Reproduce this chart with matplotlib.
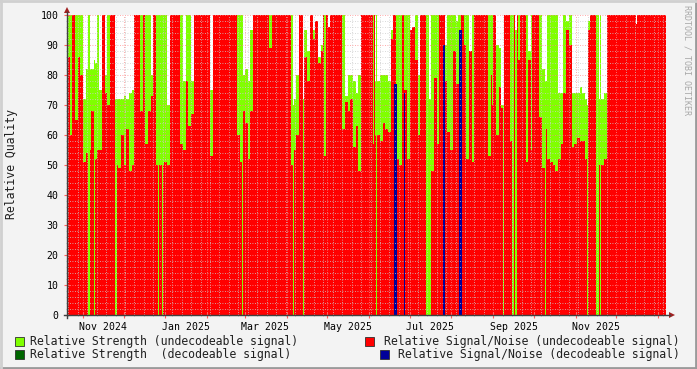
import numpy as np
import matplotlib.pyplot as plt
import matplotlib.dates as mdates
from matplotlib.ticker import MultipleLocator, NullFormatter, NullLocator
from matplotlib.patches import Rectangle, Polygon
from matplotlib.lines import Line2D

plt.rcParams['font.family'] = ['DejaVu Sans Mono']

# one reading every 2 days starting at the left edge of the graph
start = '2024-10-20'
step_days = 2

strength_undec = [
    100, 100, 100, 100, 100, 100, 72, 82, 82, 82,
    84, 100, 75, 100, 80, 100, 100, 100, 72, 72,
    72, 73, 72, 74, 75, 100, 100, 100, 100, 100,
    100, 80, 100, 100, 100, 100, 100, 70, 100, 100,
    100, 100, 100, 78, 100, 100, 78, 100, 100, 100,
    100, 100, 100, 75, 100, 100, 100, 100, 100, 100,
    100, 100, 100, 100, 100, 80, 82, 78, 95, 100,
    100, 100, 100, 100, 100, 100, 100, 100, 100, 100,
    100, 100, 100, 100, 72, 80, 100, 100, 95, 88,
    100, 95, 98, 86, 90, 100, 100, 100, 100, 100,
    100, 100, 100, 73, 80, 80, 78, 74, 80, 100,
    100, 100, 100, 100, 78, 78, 80, 80, 80, 78,
    95, 100, 100, 100, 100, 100, 100, 95, 96, 100,
    80, 100, 100, 100, 72, 100, 100, 100, 100, 100,
    90, 100, 100, 100, 98, 100, 100, 100, 100, 88,
    100, 100, 100, 100, 100, 100, 100, 100, 100, 90,
    89, 70, 100, 100, 100, 100, 100, 100, 100, 100,
    100, 88, 100, 100, 100, 100, 82, 78, 100, 100,
    100, 100, 74, 74, 100, 98, 100, 74, 74, 74,
    76, 74, 72, 98, 100, 100, 100, 72, 72, 74,
    100, 100, 100, 100, 100, 100, 100, 100, 100, 100,
    100, 100, 100, 100, 100, 100, 100, 100, 100, 100,
    100, 100,
]

snr_undec = [
    86, 60, 100, 65, 86, 80, 51, 54, 55, 68,
    52, 55, 55, 100, 74, 70, 100, 100, 50, 49,
    60, 50, 62, 48, 50, 100, 100, 68, 100, 57,
    68, 73, 100, 50, 50, 50, 51, 50, 100, 100,
    100, 100, 57, 55, 78, 63, 67, 100, 100, 100,
    100, 100, 100, 53, 100, 100, 100, 100, 100, 100,
    100, 100, 100, 60, 51, 68, 64, 52, 68, 100,
    100, 100, 100, 100, 100, 89, 100, 100, 100, 100,
    100, 100, 100, 50, 55, 60, 100, 100, 86, 78,
    100, 92, 98, 84, 88, 100, 100, 100, 100, 100,
    100, 100, 62, 71, 68, 72, 56, 63, 48, 100,
    100, 100, 100, 100, 60, 60, 58, 64, 62, 61,
    92, 100, 52, 50, 100, 75, 52, 95, 96, 85,
    60, 100, 100, 0, 0, 48, 79, 57, 100, 100,
    78, 61, 55, 88, 77, 77, 100, 90, 52, 88,
    51, 100, 100, 100, 100, 100, 53, 80, 100, 60,
    76, 69, 100, 100, 58, 100, 100, 85, 100, 100,
    51, 85, 100, 100, 100, 66, 49, 62, 52, 51,
    50, 48, 52, 57, 74, 95, 90, 56, 57, 59,
    58, 58, 52, 95, 100, 100, 0, 50, 50, 52,
    100, 100, 100, 100, 100, 100, 100, 100, 100, 100,
    100, 100, 100, 100, 100, 100, 100, 100, 100, 100,
    100, 100,
]

# single-day readings narrower than the 2-day samples (days after start)
thin_day = [16.4, 20.6, 36.4, 68.0, 71.0, 129.9, 168.1, 175.3, 191.2, 194.1,
            227.4, 229.2, 315.5, 323.4, 330.6, 332.9, 344.4, 354.9, 385.9, 395.5, 422.2]
thin_strength = [100, 85, 72, 100, 100, 100, 70, 72, 100, 96,
                 100, 100, 100, 70, 100, 95, 100, 78, 70, 100, 97]
thin_snr = [0, 0, 0, 0, 0, 0, 0, 0, 53, 96,
            57, 0, 70, 0, 0, 0, 55, 0, 0, 0, 97]

# decodeable signal (days after start)
dec_day = [242.6, 243.7, 250.2, 279.3, 291.5, 292.4]
dec_strength = [60, 60, 55, 70, 50, 50]
dec_snr = [77, 77, 74, 90, 95, 95]

GREEN = '#80ff00'
RED = '#ff0000'
DKGREEN = '#006600'
BLUE = '#000099'
BG = '#f3f3f3'

W, H = 697, 369


def px(x, y):
    return x / W, 1 - y / H


fig = plt.figure(figsize=(W / 100, H / 100), dpi=100, facecolor=BG)
ax = fig.add_axes([67 / W, 54 / H, 599 / W, 300 / H])
ax.set_facecolor('white')

t0 = mdates.datestr2num(start)
edges = t0 + step_days * np.arange(len(snr_undec) + 1)
ax.stairs(strength_undec, edges, fill=True, color=GREEN, lw=0)
ax.stairs(snr_undec, edges, fill=True, color=RED, lw=0)

tx = t0 + np.array(thin_day)
ax.bar(tx, 100, width=1.0, color='white', lw=0)
ax.bar(tx, thin_strength, width=1.0, color=GREEN, lw=0)
ax.bar(tx, thin_snr, width=1.0, color=RED, lw=0)

dx = t0 + np.array(dec_day)
ax.bar(dx, dec_strength, width=1.15, color=DKGREEN, lw=0)
ax.bar(dx, dec_snr, width=1.15, color=BLUE, lw=0)

ax.set_xlim(edges[0], edges[-1])
ax.set_ylim(0, 100)

ax.xaxis.set_major_locator(mdates.MonthLocator())
ax.xaxis.set_major_formatter(NullFormatter())
ax.xaxis.set_minor_locator(mdates.WeekdayLocator(byweekday=mdates.MO))
ax.yaxis.set_major_locator(MultipleLocator(10))
ax.yaxis.set_minor_locator(MultipleLocator(2))
ax.set_axisbelow(False)
ax.grid(which='major', color=(1, 0.55, 0.55, 0.45), ls=(0, (1, 2)), lw=0.6)
ax.grid(which='minor', color=(0.8, 0.8, 0.8, 0.3), ls=(0, (1, 2)), lw=0.6)
ax.tick_params(which='major', length=4, direction='inout', color='#ff6060',
               labelsize=7.1, pad=4)
ax.tick_params(which='minor', length=2, direction='inout', color='#b0b0b0')

sec = ax.secondary_xaxis('bottom')
sec.xaxis.set_major_locator(mdates.MonthLocator(bymonth=[1, 3, 5, 7, 9, 11], bymonthday=16))
sec.xaxis.set_major_formatter(mdates.DateFormatter('%b %Y'))
sec.xaxis.set_minor_locator(NullLocator())
sec.tick_params(length=0, labelsize=7.1, pad=5)
sec.spines['bottom'].set_visible(False)

for s in ax.spines.values():
    s.set_visible(False)

# axis lines with arrows
fig.add_artist(Line2D([px(64, 0)[0], px(670, 0)[0]], [px(0, 315)[1]] * 2,
                      color='#404040', lw=1))
fig.add_artist(Line2D([px(67, 0)[0]] * 2, [px(0, 318)[1], px(0, 12)[1]],
                      color='#404040', lw=1))
fig.add_artist(Polygon([px(67, 7), px(64, 13), px(70, 13)], closed=True,
                       color='#a02020', lw=0))
fig.add_artist(Polygon([px(675, 315), px(669, 312), px(669, 318)], closed=True,
                       color='#a02020', lw=0))

fig.text(*px(12, 164), 'Relative Quality', rotation=90, ha='center', va='center',
         fontsize=8.3, color='#202020')
fig.text(*px(687, 60), 'RRDTOOL / TOBI OETIKER', rotation=270, ha='center',
         va='center', fontsize=6, color='#a8a8a8')

# legend
legend_rows = [
    (15, 341.5, GREEN, 30, 'left', 'Relative Strength (undecodeable signal)'),
    (15, 354.5, DKGREEN, 30, 'left', 'Relative Strength  (decodeable signal)'),
    (365, 341.5, RED, 680, 'right', 'Relative Signal/Noise (undecodeable signal)'),
    (380, 354.5, BLUE, 680, 'right', 'Relative Signal/Noise (decodeable signal)'),
]
for bx, yc, col, tx_, ha, label in legend_rows:
    x0, y0 = px(bx, yc + 4.5)
    fig.add_artist(Rectangle((x0, y0), 9 / W, 9 / H, facecolor=col,
                             edgecolor='#303030', lw=0.6, transform=fig.transFigure))
    fig.text(*px(tx_, yc), label, ha=ha, va='center', fontsize=8.3, color='#202020')

# frame
fig.add_artist(Line2D([0, 1], [0.002, 0.002], color='#9a9a9a', lw=2))
fig.add_artist(Line2D([0.998, 0.998], [0, 1], color='#9a9a9a', lw=2))
fig.add_artist(Line2D([0, 1], [0.998, 0.998], color='#d0d0d0', lw=2))
fig.add_artist(Line2D([0.002, 0.002], [0, 1], color='#d0d0d0', lw=2))

fig.savefig('out.png', dpi=100, facecolor=BG)
